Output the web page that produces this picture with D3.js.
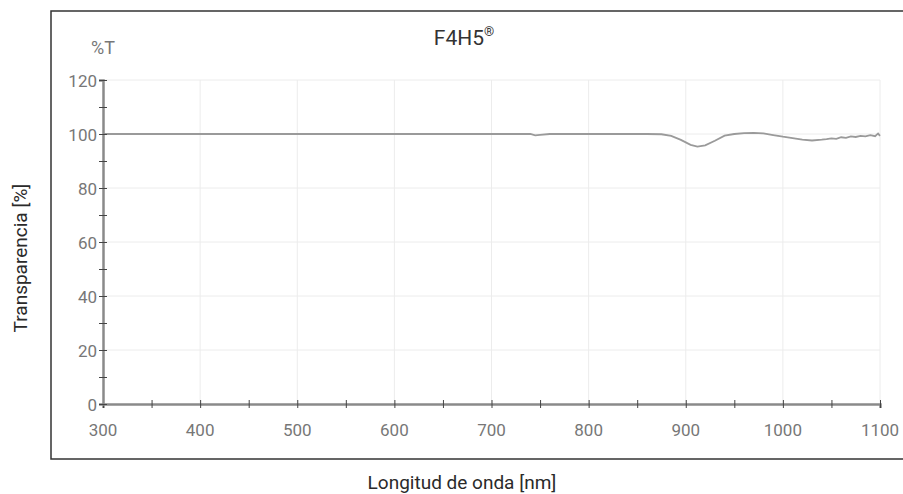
<!DOCTYPE html>
<html>
<head>
<meta charset="utf-8">
<script src="https://cdn.jsdelivr.net/npm/d3@7"></script>
<style>
  body { margin: 0; background: #fff; }
  svg { display: block; font-family: Roboto, "DejaVu Sans", sans-serif; }
</style>
</head>
<body>
<svg id="main-chart"></svg>
<script>
// wavelength (nm) and transmission (%T)
const wavelengths = [300, 400, 500, 600, 670, 700, 740, 745, 750, 760, 800, 860, 875, 885, 895, 905, 912, 920, 930, 940, 950, 960, 970, 980, 990, 1000, 1010, 1020, 1030, 1040, 1045, 1050, 1055, 1060, 1065, 1070, 1075, 1080, 1085, 1090, 1095, 1098, 1100];
const transmission = [100, 100, 100, 100, 100, 100, 100, 99.5, 99.7, 100, 100, 100, 99.9, 99.3, 97.8, 96.0, 95.3, 95.8, 97.5, 99.4, 100, 100.3, 100.4, 100.2, 99.6, 99.0, 98.5, 97.9, 97.6, 97.9, 98.1, 98.4, 98.2, 98.8, 98.6, 99.1, 98.9, 99.3, 99.1, 99.6, 99.2, 100.2, 99.3];
const xTicks = [300, 400, 500, 600, 700, 800, 900, 1000, 1100];
const yTicks = [0, 20, 40, 60, 80, 100, 120];

const width = 903, height = 494;
const margin = {top: 80, right: 23, bottom: 90, left: 103};

const svg = d3.select("#main-chart")
    .attr("width", width)
    .attr("height", height);

const x = d3.scaleLinear().domain([300, 1100]).range([margin.left, width - margin.right]);
const y = d3.scaleLinear().domain([0, 120]).range([height - margin.bottom, margin.top]);

// outer frame
svg.append("rect")
    .attr("x", 51).attr("y", 11)
    .attr("width", 870).attr("height", 448)
    .attr("fill", "none")
    .attr("stroke", "#333")
    .attr("stroke-width", 1.5);

// grid
svg.append("g")
    .selectAll("line")
    .data(xTicks.slice(1))
    .join("line")
      .attr("x1", d => x(d)).attr("x2", d => x(d))
      .attr("y1", y(0)).attr("y2", y(120))
      .attr("stroke", "#ececec");

svg.append("g")
    .selectAll("line")
    .data(yTicks.slice(1))
    .join("line")
      .attr("x1", x(300)).attr("x2", x(1100))
      .attr("y1", d => y(d)).attr("y2", d => y(d))
      .attr("stroke", "#ececec");

// curve
const points = wavelengths.map((w, i) => [w, transmission[i]]);
svg.append("path")
    .datum(points)
    .attr("fill", "none")
    .attr("stroke", "#9a9a9a")
    .attr("stroke-width", 1.8)
    .attr("d", d3.line().x(d => x(d[0])).y(d => y(d[1])));

// axes with crossing ticks
const xAxis = svg.append("g")
    .attr("transform", `translate(0,${y(0)})`)
    .call(d3.axisBottom(x).ticks(16).tickSize(4).tickFormat(""));
xAxis.selectAll(".tick line").attr("y1", -4).attr("stroke", "#444");
xAxis.select(".domain").attr("stroke", "#8a8a8a").attr("stroke-width", 2.5);

svg.append("g")
    .attr("font-size", 17)
    .attr("fill", "#777")
    .attr("text-anchor", "middle")
  .selectAll("text")
  .data(xTicks)
  .join("text")
    .attr("x", d => x(d))
    .attr("y", y(0) + 32)
    .text(d => d);

const yAxis = svg.append("g")
    .attr("transform", `translate(${x(300)},0)`)
    .call(d3.axisLeft(y).ticks(12).tickSize(4).tickFormat(""));
yAxis.selectAll(".tick line").attr("x1", 4).attr("stroke", "#444");
yAxis.select(".domain").attr("stroke", "#8a8a8a").attr("stroke-width", 2.5);

svg.append("g")
    .attr("font-size", 17)
    .attr("fill", "#777")
    .attr("text-anchor", "end")
  .selectAll("text")
  .data(yTicks)
  .join("text")
    .attr("x", x(300) - 6)
    .attr("y", d => y(d) + 7)
    .text(d => d);

// titles
const title = svg.append("text")
    .attr("x", 464).attr("y", 45)
    .attr("text-anchor", "middle")
    .attr("font-size", 21)
    .attr("fill", "#333")
    .text("F4H5");
title.append("tspan")
    .attr("font-size", 13)
    .attr("dy", -9)
    .text("®");

svg.append("text")
    .attr("x", 103).attr("y", 54)
    .attr("text-anchor", "middle")
    .attr("font-size", 18)
    .attr("fill", "#777")
    .text("%T");

svg.append("text")
    .attr("transform", "translate(27,258) rotate(-90)")
    .attr("text-anchor", "middle")
    .attr("font-size", 19)
    .attr("fill", "#2a2a2a")
    .text("Transparencia [%]");

svg.append("text")
    .attr("x", 462).attr("y", 489)
    .attr("text-anchor", "middle")
    .attr("font-size", 19)
    .attr("fill", "#2a2a2a")
    .text("Longitud de onda [nm]");
</script>
</body>
</html>
